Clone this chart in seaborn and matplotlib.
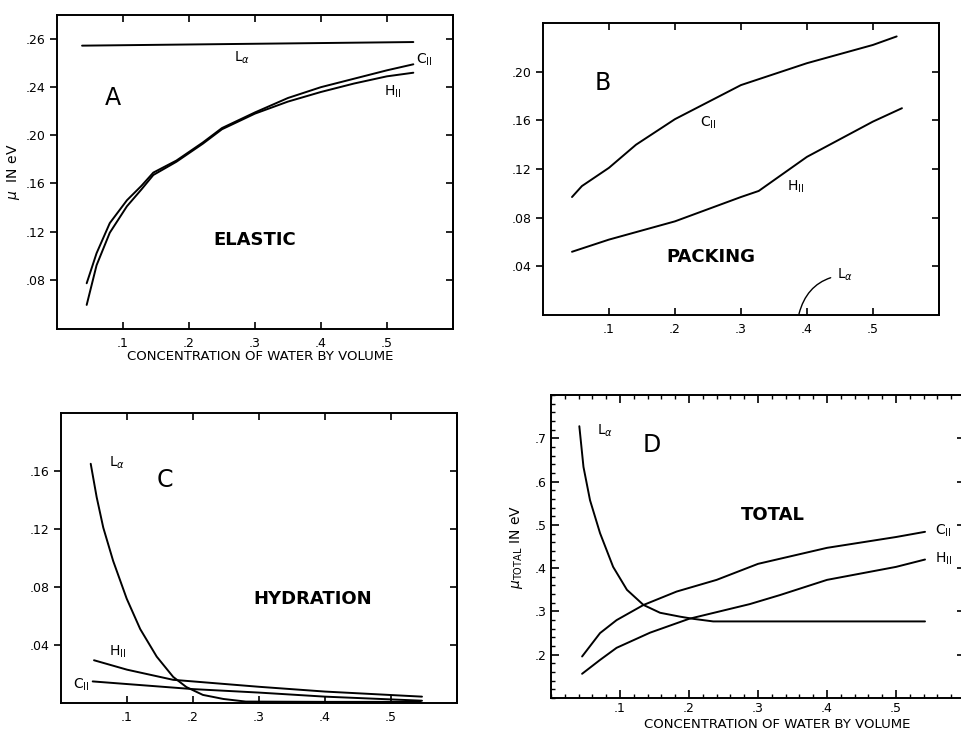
import numpy as np
import pandas as pd
import seaborn as sns
import matplotlib
matplotlib.use("Agg")
from matplotlib import pyplot as plt
from matplotlib.ticker import MultipleLocator

# ---- panel A : elastic energy ----
a_x_la = [0.038, 0.54]
a_la = [0.2745, 0.2775]
a_x = [0.045, 0.060, 0.080, 0.106, 0.128, 0.146, 0.181, 0.221, 0.25, 0.30, 0.35, 0.40, 0.45, 0.50, 0.54]
a_cii = [0.077, 0.102, 0.127, 0.146, 0.158, 0.169, 0.179, 0.194, 0.206, 0.219, 0.231, 0.240, 0.247, 0.254, 0.259]
a_hii = [0.059, 0.092, 0.119, 0.141, 0.155, 0.167, 0.178, 0.193, 0.205, 0.218, 0.228, 0.236, 0.243, 0.249, 0.252]

# ---- panel B : packing energy ----
b_x_cii = [0.044, 0.059, 0.10, 0.141, 0.20, 0.25, 0.30, 0.40, 0.50, 0.536]
b_cii = [0.097, 0.106, 0.121, 0.140, 0.161, 0.175, 0.189, 0.207, 0.222, 0.229]
b_x_hii = [0.044, 0.10, 0.20, 0.30, 0.327, 0.40, 0.50, 0.544]
b_hii = [0.052, 0.062, 0.077, 0.097, 0.102, 0.130, 0.159, 0.170]

# ---- panel C : hydration energy ----
c_x_la = [0.045, 0.054, 0.064, 0.079, 0.0995, 0.12, 0.145, 0.17, 0.19, 0.215, 0.246, 0.28, 0.40, 0.545]
c_la = [0.165, 0.142, 0.121, 0.098, 0.072, 0.051, 0.032, 0.018, 0.011, 0.0056, 0.0028, 0.001, 0.0008, 0.0008]
c_x_hii = [0.050, 0.10, 0.17, 0.20, 0.30, 0.40, 0.547]
c_hii = [0.0295, 0.023, 0.016, 0.0149, 0.0112, 0.0079, 0.0044]
c_x_cii = [0.048, 0.20, 0.30, 0.40, 0.547]
c_cii = [0.0149, 0.0096, 0.0072, 0.0044, 0.0016]

# ---- panel D : total energy ----
d_x_la = [0.041, 0.047, 0.0565, 0.071, 0.090, 0.110, 0.134, 0.158, 0.187, 0.206, 0.235, 0.40, 0.542]
d_la = [0.728, 0.634, 0.557, 0.481, 0.403, 0.350, 0.315, 0.297, 0.288, 0.283, 0.277, 0.277, 0.277]
d_x_cii = [0.045, 0.071, 0.095, 0.134, 0.182, 0.24, 0.30, 0.40, 0.50, 0.542]
d_cii = [0.196, 0.250, 0.280, 0.315, 0.346, 0.373, 0.410, 0.447, 0.472, 0.484]
d_x_hii = [0.045, 0.071, 0.095, 0.1435, 0.20, 0.288, 0.332, 0.40, 0.50, 0.542]
d_hii = [0.156, 0.188, 0.216, 0.251, 0.283, 0.317, 0.338, 0.373, 0.403, 0.420]

x_ticks = [0.1, 0.2, 0.3, 0.4, 0.5]
x_labels = [".1", ".2", ".3", ".4", ".5"]

LA = r"L$_\alpha$"
CII = r"C$_{\mathrm{II}}$"
HII = r"H$_{\mathrm{II}}$"
XLABEL = "CONCENTRATION OF WATER BY VOLUME"

sns.set_style("ticks")
plt.rcParams["font.family"] = ["DejaVu Sans"]
for key in ["text.color", "axes.labelcolor", "xtick.color", "ytick.color", "axes.edgecolor"]:
    plt.rcParams[key] = "black"


def frame(curves):
    parts = []
    for name, xs, ys in curves:
        parts.append(pd.DataFrame({"x": xs, "y": ys, "phase": name}))
    return pd.concat(parts, ignore_index=True)


def draw(ax, curves):
    df = frame(curves)
    names = df["phase"].unique()
    sns.lineplot(data=df, x="x", y="y", hue="phase", units="phase", estimator=None,
                 sort=False, palette={n: "black" for n in names}, legend=False,
                 linewidth=1.4, ax=ax)
    ax.set_xlim(0, 0.6)
    ax.set_xticks(x_ticks)
    ax.set_xticklabels(x_labels)
    ax.set_xlabel("")
    ax.set_ylabel("")
    for s in ax.spines.values():
        s.set_visible(True)
        s.set_linewidth(1.4)
        s.set_color("black")


def style_ticks(ax):
    ax.tick_params(axis="x", direction="in", top=True, bottom=True, length=5,
                   width=1.2, labelsize=9, pad=6)
    ax.tick_params(axis="y", direction="out", left=True, length=5, width=1.2,
                   labelsize=9)
    sec = ax.secondary_yaxis("right")
    sec.set_yticks(ax.get_yticks())
    sec.tick_params(direction="in", length=5, width=1.2, labelright=False)
    sec.spines["right"].set_linewidth(1.4)


fig = plt.figure(figsize=(9.61, 7.34), dpi=100)

# panel A
axA = fig.add_axes([0.0593, 0.5518, 0.412, 0.4278])
draw(axA, [("La", a_x_la, a_la), ("CII", a_x, a_cii), ("HII", a_x, a_hii)])
axA.set_ylim(0.039, 0.30)
axA.set_yticks([0.08, 0.12, 0.16, 0.20, 0.24, 0.28])
axA.set_yticklabels([".08", ".12", ".16", ".20", ".24", ".26"])
style_ticks(axA)
axA.text(0.28, 0.264, LA, fontsize=10, ha="center", va="center")
axA.text(0.557, 0.263, CII, fontsize=10, ha="center", va="center")
axA.text(0.508, 0.236, HII, fontsize=10, ha="center", va="center")
axA.text(0.085, 0.231, "A", fontsize=17, ha="center", va="center")
axA.text(0.30, 0.113, "ELASTIC", fontsize=13, fontweight="bold", ha="center", va="center")
axA.set_ylabel(r"$\mu$  IN eV", fontsize=10)
axA.yaxis.set_label_coords(-0.088, 0.5)
axA.set_xlabel(XLABEL, fontsize=9.5)
axA.xaxis.set_label_coords(0.513, -0.068)

# panel B
axB = fig.add_axes([0.565, 0.5708, 0.412, 0.3978])
draw(axB, [("CII", b_x_cii, b_cii), ("HII", b_x_hii, b_hii)])
axB.set_ylim(0.0, 0.24)
axB.set_yticks([0.04, 0.08, 0.12, 0.16, 0.20])
axB.set_yticklabels([".04", ".08", ".12", ".16", ".20"])
style_ticks(axB)
axB.text(0.25, 0.158, CII, fontsize=10, ha="center", va="center")
axB.text(0.383, 0.105, HII, fontsize=10, ha="center", va="center")
axB.text(0.09, 0.191, "B", fontsize=17, ha="center", va="center")
axB.text(0.255, 0.048, "PACKING", fontsize=13, fontweight="bold", ha="center", va="center")
axB.annotate(LA, xy=(0.388, 0.001), xytext=(0.445, 0.033), fontsize=10,
             ha="left", va="center",
             arrowprops=dict(arrowstyle="-", color="black", lw=1.0,
                             connectionstyle="arc3,rad=0.35", shrinkA=2, shrinkB=0))

# panel C
axC = fig.add_axes([0.0635, 0.0422, 0.412, 0.3951])
draw(axC, [("La", c_x_la, c_la), ("HII", c_x_hii, c_hii), ("CII", c_x_cii, c_cii)])
axC.set_ylim(0.0, 0.20)
axC.set_yticks([0.04, 0.08, 0.12, 0.16])
axC.set_yticklabels([".04", ".08", ".12", ".16"])
style_ticks(axC)
axC.text(0.072, 0.166, LA, fontsize=10, ha="left", va="center")
axC.text(0.072, 0.035, HII, fontsize=10, ha="left", va="center")
axC.text(0.018, 0.0125, CII, fontsize=10, ha="left", va="center")
axC.text(0.157, 0.154, "C", fontsize=17, ha="center", va="center")
axC.text(0.382, 0.072, "HYDRATION", fontsize=13, fontweight="bold", ha="center", va="center")

# panel D
axD = fig.add_axes([0.5734, 0.049, 0.4308, 0.4128])
draw(axD, [("La", d_x_la, d_la), ("CII", d_x_cii, d_cii), ("HII", d_x_hii, d_hii)])
axD.set_ylim(0.1, 0.8)
axD.set_yticks([0.2, 0.3, 0.4, 0.5, 0.6, 0.7])
axD.set_yticklabels([".2", ".3", ".4", ".5", ".6", ".7"])
axD.xaxis.set_minor_locator(MultipleLocator(0.02))
axD.yaxis.set_minor_locator(MultipleLocator(0.02))
axD.tick_params(axis="both", which="major", direction="in", top=True, right=True,
                length=6, width=1.2, labelsize=9)
axD.tick_params(axis="both", which="minor", direction="in", top=True, right=True,
                length=3, width=1.0)
axD.tick_params(axis="x", pad=3)
axD.text(0.066, 0.718, LA, fontsize=10, ha="left", va="center")
axD.text(0.146, 0.684, "D", fontsize=17, ha="center", va="center")
axD.text(0.322, 0.523, "TOTAL", fontsize=13, fontweight="bold", ha="center", va="center")
axD.text(0.556, 0.486, CII, fontsize=10, ha="left", va="center")
axD.text(0.556, 0.421, HII, fontsize=10, ha="left", va="center")
axD.set_ylabel(r"$\mu_{\mathrm{TOTAL}}$ IN eV", fontsize=10)
axD.yaxis.set_label_coords(-0.062, 0.5)
axD.set_xlabel(XLABEL, fontsize=9.5)
axD.xaxis.set_label_coords(0.546, -0.066)

fig.savefig("out.png", dpi=100)
